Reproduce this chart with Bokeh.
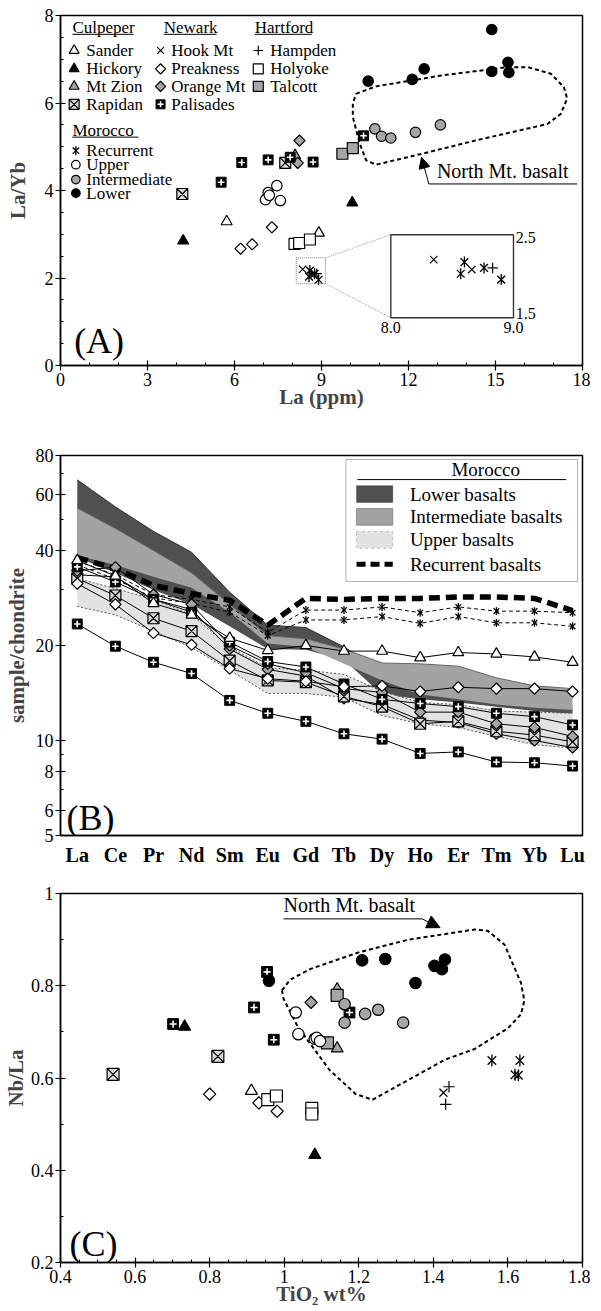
import math
from bokeh.plotting import figure
from bokeh.models import (Range1d, Label, Arrow, NormalHead, FixedTicker,
                          SingleIntervalTicker, BasicTickFormatter, BoxAnnotation)
from bokeh.layouts import column
from bokeh.embed import file_html
from bokeh.resources import INLINE

FONT = "Liberation Serif"
GREY = "#a6a6a6"

# ======================= DATA =======================
# ---- Panel A : La/Yb vs La (ppm)
A_sander_x = [5.73, 8.91];                A_sander_y = [3.29, 3.03]
A_hickory_x = [4.23, 10.06];              A_hickory_y = [2.85, 3.72]
A_mtzion_x = [8.09];                      A_mtzion_y = [4.80]
A_rapidan_x = [4.20, 7.75];               A_rapidan_y = [3.92, 4.63]
A_hookmt_x = [8.35, 8.66];                A_hookmt_y = [2.20, 2.08]
A_preakness_x = [6.21, 6.61, 7.29];       A_preakness_y = [2.67, 2.77, 3.16]
A_orangemt_x = [8.24, 8.18];              A_orangemt_y = [5.14, 4.63]
A_palisades_x = [5.54, 6.25, 7.16, 7.92, 8.71, 10.45]
A_palisades_y = [4.19, 4.64, 4.70, 4.76, 4.65, 5.25]
A_hampden_x = [8.83];                     A_hampden_y = [2.10]
A_holyoke_x = [8.07, 8.23, 8.60];         A_holyoke_y = [2.78, 2.80, 2.88]
A_talcott_x = [9.72, 10.08];              A_talcott_y = [4.84, 4.97]
A_recurrent_x = [8.60, 8.57, 8.76, 8.90]; A_recurrent_y = [2.17, 2.03, 2.10, 1.96]
A_upper_x = [7.46, 7.16, 7.07, 7.58, 7.20]; A_upper_y = [4.11, 3.95, 3.79, 3.77, 3.89]
A_inter_x = [10.84, 11.07, 11.39, 12.24, 13.10]; A_inter_y = [5.41, 5.24, 5.20, 5.33, 5.50]
A_lower_x = [14.87, 12.54, 12.13, 10.61, 14.87, 15.43, 15.46]
A_lower_y = [7.68, 6.78, 6.54, 6.50, 6.72, 6.93, 6.70]
# North Mt. basalt field (panel A)
A_field_x = [10.19, 10.88, 13.15, 15.43, 16.11, 16.91, 17.36, 17.47, 17.25, 16.79,
             14.29, 12.47, 10.88, 10.54, 10.32, 10.08, 10.08]
A_field_y = [6.21, 6.38, 6.63, 6.82, 6.82, 6.67, 6.36, 6.10, 5.75, 5.52,
             5.14, 4.84, 4.59, 4.69, 5.07, 5.68, 5.98]

# ---- Panel B : chondrite-normalised REE
REE = ["La", "Ce", "Pr", "Nd", "Sm", "Eu", "Gd", "Tb", "Dy", "Ho", "Er", "Tm", "Yb", "Lu"]
B_lower_hi = [67, 55, 46, 39.5, 29.5, 23.2, 22.8, 19.8, 16.5, 15.5, 15.0, 13.8, 13.0, 12.6]
B_lower_lo = [38, 34, 30, 27, 23, 19.5, 19.4, 18.0, 14.0, 13.5, 13.2, 12.8, 12.4, 12.1]
B_inter_hi = [54.5, 47, 40, 34, 27, 21.5, 21.0, 19.5, 17.6, 17.5, 17.2, 15.8, 14.9, 14.6]
B_inter_lo = [38.5, 36, 33, 30.5, 25.5, 20.3, 19.8, 17.5, 15.5, 14.0, 13.5, 13.0, 12.7, 12.5]
B_upper_hi = [32.6, 30.3, 28, 25, 19.8, 17, 16.7, 16.2, 14.3, 13.2, 13.0, 12.4, 12.3, 12.2]
B_upper_lo = [26.6, 25, 22.2, 19.7, 16.7, 14.1, 14.1, 13.7, 12.0, 11.3, 11.0, 10.3, 9.7, 9.46]
B_recurrent = [38, 35, 31, 29.2, 27.8, 23.2, 28.2, 28.0, 28.2, 28.2, 28.5, 28.5, 28.2, 25.8]
B_rec_a = [37, 33.5, 29, 28, 26.5, 22.0, 25.9, 25.9, 26.5, 25.4, 26.5, 25.7, 25.7, 25.4]
B_rec_b = [36, 32.5, 28.3, 27.2, 25.5, 21.5, 24.1, 24.1, 24.7, 23.5, 24.7, 23.6, 23.6, 23.0]
B_palisades_1 = [23.4, 19.9, 17.7, 16.3, 13.4, 12.2, 11.5, 10.5, 10.1, 9.1, 9.2, 8.55, 8.5, 8.3]
B_palisades_2 = [35.5, 31.8, 28.0, 25.5, 20.5, 17.8, 17.1, 15.1, 13.5, 13.1, 12.8, 12.2, 11.9, 11.2]
B_sander = [37.2, 33.2, 27.2, 25.0, 21.1, 19.3, 20.0, 19.2, 19.2, 18.3, 19.0, 18.8, 18.4, 17.7]
B_preakness = [31.4, 27.0, 21.9, 20.1, 16.9, 15.7, 15.4, 14.8, 14.9, 14.3, 14.75, 14.6, 14.6, 14.3]
B_rapidan = [32.6, 28.8, 24.4, 22.2, 17.9, 15.5, 15.3, 13.8, 12.8, 11.3, 11.5, 10.7, 10.4, 9.9]
B_orangemt_1 = [34.5, 35.4, 29.0, 27.0, 20.0, 17.5, 16.4, 14.6, 14.2, 12.3, 12.3, 11.3, 11.0, 10.3]
B_orangemt_2 = [33.5, 33.0, 28.0, 26.0, 19.5, 16.8, 16.0, 13.6, 13.0, 11.6, 11.4, 10.5, 10.0, 9.5]

# ---- Panel C : Nb/La vs TiO2
C_sander_x = [0.912];                   C_sander_y = [0.572]
C_hickory_x = [0.733, 1.082];           C_hickory_y = [0.711, 0.433]
C_mtzion_x = [1.142, 1.142];            C_mtzion_y = [0.792, 0.664]
C_rapidan_x = [0.541, 0.822];           C_rapidan_y = [0.608, 0.647]
C_hookmt_x = [1.427];                   C_hookmt_y = [0.568]
C_preakness_x = [0.800, 0.932, 0.981];  C_preakness_y = [0.565, 0.546, 0.528]
C_orangemt_x = [1.072];                 C_orangemt_y = [0.764]
C_palisades_x = [0.702, 0.919, 0.954, 0.972, 1.175]
C_palisades_y = [0.717, 0.753, 0.830, 0.683, 0.742]
C_hampden_x = [1.442, 1.433];           C_hampden_y = [0.581, 0.543]
C_holyoke_x = [0.956, 0.979, 1.074, 1.074]; C_holyoke_y = [0.553, 0.561, 0.534, 0.522]
C_talcott_x = [1.142, 1.116];           C_talcott_y = [0.779, 0.676]
C_recurrent_x = [1.557, 1.632, 1.619, 1.628]; C_recurrent_y = [0.638, 0.638, 0.607, 0.606]
C_upper_x = [1.031, 1.038, 1.082, 1.087, 1.096]; C_upper_y = [0.742, 0.695, 0.685, 0.687, 0.680]
C_inter_x = [1.162, 1.162, 1.217, 1.252, 1.319]; C_inter_y = [0.760, 0.720, 0.739, 0.748, 0.720]
C_lower_x = [0.959, 1.209, 1.271, 1.352, 1.403, 1.423, 1.431]
C_lower_y = [0.811, 0.855, 0.858, 0.806, 0.843, 0.836, 0.857]
C_field_x = [0.994, 1.016, 1.069, 1.202, 1.334, 1.511, 1.546, 1.591, 1.635, 1.644, 1.635,
             1.600, 1.511, 1.432, 1.237, 1.192, 1.122, 1.060, 1.034, 0.998]
C_field_y = [0.790, 0.813, 0.836, 0.873, 0.900, 0.922, 0.919, 0.889, 0.806, 0.768, 0.738,
             0.708, 0.663, 0.640, 0.553, 0.565, 0.617, 0.685, 0.715, 0.772]

# ======================= STYLES =======================
STYLE = {
    "Sander": ("triangle", "white"), "Hickory": ("triangle", "black"),
    "Mt Zion": ("triangle", GREY), "Rapidan": ("square_x", "#d9d9d9"),
    "Hook Mt": ("x", None), "Preakness": ("diamond", "white"),
    "Orange Mt": ("diamond", GREY), "Palisades": ("palisades", "black"),
    "Hampden": ("cross", None), "Holyoke": ("square", "white"),
    "Talcott": ("square", GREY), "Recurrent": ("recurrent", None),
    "Upper": ("circle", "white"), "Intermediate": ("circle", GREY), "Lower": ("circle", "black"),
}


def draw(p, name, xs, ys, size=11):
    m, fill = STYLE[name]
    if m == "palisades":
        p.scatter(xs, ys, marker="square", size=size * 0.9, fill_color="black", line_color="black")
        p.scatter(xs, ys, marker="cross", size=size * 0.6, line_color="white", line_width=1.6)
    elif m == "recurrent":
        p.scatter(xs, ys, marker="x", size=size * 1.0, line_color="black", line_width=1.3)
        p.scatter(xs, ys, marker="dash", angle=math.pi / 2, size=size * 1.0,
                  line_color="black", line_width=1.3)
    elif m == "diamond":
        p.scatter(xs, ys, marker="square", angle=math.pi / 4, size=size * 0.72,
                  fill_color=fill, line_color="black", line_width=1.2)
    elif m in ("x", "cross"):
        p.scatter(xs, ys, marker=m, size=size * 0.95, line_color="black", line_width=1.2)
    elif m == "circle":
        p.scatter(xs, ys, marker="circle", size=size * 0.95, fill_color=fill,
                  line_color="black", line_width=1.2)
    else:
        p.scatter(xs, ys, marker=m, size=size, fill_color=fill, line_color="black", line_width=1.2)


def style_axes(p, ylab_standoff):
    p.outline_line_color = "black"
    p.outline_line_width = 1.5
    p.xgrid.visible = False
    p.ygrid.visible = False
    p.background_fill_color = "white"
    p.border_fill_color = "white"
    for ax in (p.xaxis[0], p.yaxis[0]):
        ax.axis_line_width = 1.5
        ax.major_label_text_font = FONT
        ax.major_label_text_font_size = "18px"
        ax.major_label_text_color = "black"
        ax.axis_label_text_font = FONT
        ax.axis_label_text_font_style = "bold"
        ax.axis_label_text_font_size = "21px"
        ax.major_tick_in = 5
        ax.major_tick_out = 5
        ax.minor_tick_in = 3
        ax.minor_tick_out = 0
        ax.major_tick_line_width = 1.2
        ax.major_label_standoff = 2
    p.xaxis[0].axis_label_standoff = -4
    p.yaxis[0].axis_label_standoff = ylab_standoff


def label(p, x, y, text, size="17px", align="left", baseline="middle", style="normal"):
    p.add_layout(Label(x=x, y=y, text=text, text_font=FONT, text_font_size=size,
                       text_align=align, text_baseline=baseline, text_font_style=style,
                       text_color="black"))


# ======================= PANEL A =======================
pA = figure(width=590, height=415, x_range=Range1d(0, 18), y_range=Range1d(0, 8),
            output_backend="svg", toolbar_location=None,
            min_border_left=53, min_border_right=8, min_border_top=15, min_border_bottom=50)
style_axes(pA, 12)
pA.xaxis[0].ticker = SingleIntervalTicker(interval=3, num_minor_ticks=3)
pA.yaxis[0].ticker = SingleIntervalTicker(interval=2, num_minor_ticks=4)
pA.xaxis.axis_label = "La (ppm)"
pA.yaxis.axis_label = "La/Yb"

SER_A = {
    "Sander": (A_sander_x, A_sander_y), "Hickory": (A_hickory_x, A_hickory_y),
    "Mt Zion": (A_mtzion_x, A_mtzion_y), "Rapidan": (A_rapidan_x, A_rapidan_y),
    "Hook Mt": (A_hookmt_x, A_hookmt_y), "Preakness": (A_preakness_x, A_preakness_y),
    "Orange Mt": (A_orangemt_x, A_orangemt_y), "Palisades": (A_palisades_x, A_palisades_y),
    "Hampden": (A_hampden_x, A_hampden_y), "Holyoke": (A_holyoke_x, A_holyoke_y),
    "Talcott": (A_talcott_x, A_talcott_y), "Recurrent": (A_recurrent_x, A_recurrent_y),
    "Upper": (A_upper_x, A_upper_y), "Intermediate": (A_inter_x, A_inter_y),
    "Lower": (A_lower_x, A_lower_y),
}

# North Mt field
pA.line(A_field_x + A_field_x[:1], A_field_y + A_field_y[:1], line_color="black",
        line_width=2, line_dash="4 3")
for name, (xs, ys) in SER_A.items():
    draw(pA, name, xs, ys, 11)

# zoom box + inset
ZOOM_BOX = (8.13, 9.14, 1.87, 2.46)          # x0, x1, y0, y1 in main axes
INSET_BOX = (11.39, 15.62, 1.09, 2.99)       # where the inset sits in main axes
INSET_RANGE = (8.0, 9.0, 1.5, 2.5)           # inset's own axes
zx0, zx1, zy0, zy1 = ZOOM_BOX
ix0, ix1, iy0, iy1 = INSET_BOX
rx0, rx1, ry0, ry1 = INSET_RANGE
pA.quad(left=zx0, right=zx1, bottom=zy0, top=zy1, fill_color=None,
        line_color="#777777", line_dash="1 1", line_width=1)
pA.line([zx1, ix0], [zy1, iy1], line_color="#999999", line_dash="1 1", line_width=1)
pA.line([zx1, ix0], [zy0, iy0], line_color="#999999", line_dash="1 1", line_width=1)
pA.quad(left=ix0, right=ix1, bottom=iy0, top=iy1, fill_color="white",
        line_color="#333333", line_width=1.4)


def to_inset(xs, ys):
    return ([ix0 + (x - rx0) / (rx1 - rx0) * (ix1 - ix0) for x in xs],
            [iy0 + (y - ry0) / (ry1 - ry0) * (iy1 - iy0) for y in ys])


for name in ("Hook Mt", "Recurrent", "Hampden"):
    xs, ys = to_inset(*SER_A[name])
    draw(pA, name, xs, ys, 11)
label(pA, ix1 + 0.08, iy1 - 0.07, "2.5", size="16px")
label(pA, ix1 + 0.08, iy0 + 0.09, "1.5", size="16px")
label(pA, ix0, iy0 - 0.22, "8.0", size="16px", align="center")
label(pA, ix1, iy0 - 0.22, "9.0", size="16px", align="center")

# North Mt label & leader arrow
pA.line([12.70, 17.82], [4.15, 4.15], line_color="black", line_width=1)
pA.add_layout(Arrow(end=NormalHead(size=11, fill_color="black", line_color="black"),
                    x_start=12.70, y_start=4.15, x_end=12.45, y_end=4.76,
                    line_color="black", line_width=1))
label(pA, 12.98, 4.19, "North Mt. basalt", size="20px", baseline="bottom")
label(pA, 0.47, 0.57, "(A)", size="36px", baseline="alphabetic")

# legend (panel A)
LEG_COLS = [
    ("Culpeper", 0.41, 2.52, 0.47, 0.89, ["Sander", "Hickory", "Mt Zion", "Rapidan"]),
    ("Newark", 3.56, 5.38, 3.45, 3.82, ["Hook Mt", "Preakness", "Orange Mt", "Palisades"]),
    ("Hartford", 6.70, 8.66, 6.82, 7.23, ["Hampden", "Holyoke", "Talcott"]),
]
ROW_Y = [7.20, 6.78, 6.38, 5.97]
for head, hx, ux1, mx, tx, names in LEG_COLS:
    label(pA, hx, 7.72, head)
    pA.line([hx, ux1], [7.57, 7.57], line_color="black", line_width=1)
    for nm, yy in zip(names, ROW_Y):
        draw(pA, nm, [mx], [yy], 10)
        label(pA, tx, yy, nm)
label(pA, 0.41, 5.37, "Morocco")
pA.line([0.41, 2.69], [5.22, 5.22], line_color="black", line_width=1)
for nm, yy in zip(["Recurrent", "Upper", "Intermediate", "Lower"], [4.91, 4.59, 4.25, 3.94]):
    draw(pA, nm, [0.53], [yy], 9)
    label(pA, 0.89, yy, nm)

# ======================= PANEL B =======================
B_x = list(range(len(REE)))
pB = figure(width=590, height=453, x_range=Range1d(-0.44, 13.26), y_range=Range1d(5, 80),
            y_axis_type="log", output_backend="svg", toolbar_location=None,
            min_border_left=53, min_border_right=8, min_border_top=40, min_border_bottom=30)
style_axes(pB, 4)
pB.xaxis[0].ticker = FixedTicker(ticks=B_x)
pB.xaxis[0].major_label_overrides = {i: r for i, r in enumerate(REE)}
pB.xaxis[0].major_label_text_font_style = "bold"
pB.xaxis[0].major_label_text_font_size = "20px"
pB.xaxis[0].major_tick_in = 0
pB.xaxis[0].major_tick_out = 0
pB.xaxis[0].major_label_standoff = 8
B_yticks = [5, 6, 8, 10, 20, 40, 60, 80]
pB.yaxis[0].ticker = FixedTicker(ticks=B_yticks, minor_ticks=[7, 9, 30, 50, 70])
pB.yaxis[0].formatter = BasicTickFormatter()
pB.yaxis[0].major_label_overrides = {t: str(t) for t in B_yticks}
pB.yaxis.axis_label = "sample/chondrite"

pB.varea(x=B_x, y1=B_lower_lo, y2=B_lower_hi, fill_color="#505050")
pB.line(B_x, B_lower_hi, line_color="#333333", line_width=1)
pB.varea(x=B_x, y1=B_inter_lo, y2=B_inter_hi, fill_color="#a3a3a3")
pB.line(B_x, B_inter_hi, line_color="#666666", line_width=1)
pB.varea(x=B_x, y1=B_upper_lo, y2=B_upper_hi, fill_color="#e2e2e2")
pB.line(B_x, B_upper_hi, line_color="#555555", line_width=1, line_dash="2 2")
pB.line(B_x, B_upper_lo, line_color="#555555", line_width=1, line_dash="2 2")

for ser in (B_rec_a, B_rec_b):
    pB.line(B_x, ser, line_color="black", line_width=1, line_dash="4 3")
    draw(pB, "Recurrent", B_x, ser, 8)
pB.line(B_x, B_recurrent, line_color="black", line_width=5.5, line_dash="11 6")

SER_B = [("Palisades", B_palisades_1), ("Orange Mt", B_orangemt_2), ("Rapidan", B_rapidan),
         ("Orange Mt", B_orangemt_1), ("Palisades", B_palisades_2), ("Preakness", B_preakness),
         ("Sander", B_sander)]
for nm, ser in SER_B:
    pB.line(B_x, ser, line_color="black", line_width=1)
for nm, ser in SER_B:
    draw(pB, nm, B_x, ser, 11)

# legend box (panel B)
pB.add_layout(BoxAnnotation(left=7.05, right=13.13, bottom=31.9, top=77.7, fill_color="white",
                            fill_alpha=1, line_color="black", line_width=1))
label(pB, 10.72, 72.2, "Morocco", size="19px", align="center")
pB.add_layout(Arrow(end=None, x_start=7.35, y_start=67.1, x_end=12.83, y_end=67.1,
                    line_color="black", line_width=1))
LEG_B = [("Lower basalts", 60.4, "#505050", "solid"),
         ("Intermediate basalts", 51.1, "#a3a3a3", "solid"),
         ("Upper basalts", 43.2, "#e2e2e2", "dotted")]
for txt, yy, col, dash in LEG_B:
    pB.add_layout(BoxAnnotation(left=7.33, right=8.28, bottom=yy / 1.063, top=yy * 1.063,
                                fill_color=col, fill_alpha=1, line_color="black",
                                line_width=1, line_dash=dash))
    label(pB, 8.73, yy, txt, size="19px")
pB.add_layout(Arrow(end=None, x_start=7.33, y_start=36.2, x_end=8.28, y_end=36.2,
                    line_color="black", line_width=5, line_dash="9 5"))
label(pB, 8.73, 36.2, "Recurrent basalts", size="19px")
label(pB, -0.28, 5.7, "(B)", size="36px", baseline="alphabetic")

# ======================= PANEL C =======================
pC = figure(width=590, height=443, x_range=Range1d(0.4, 1.8), y_range=Range1d(0.2, 1.0),
            output_backend="svg", toolbar_location=None,
            min_border_left=53, min_border_right=8, min_border_top=25, min_border_bottom=49)
style_axes(pC, 0)
pC.xaxis[0].ticker = SingleIntervalTicker(interval=0.2, num_minor_ticks=4)
C_yticks = [0.2, 0.4, 0.6, 0.8, 1.0]
pC.yaxis[0].ticker = FixedTicker(ticks=C_yticks, minor_ticks=[0.3, 0.5, 0.7, 0.9])
pC.yaxis[0].major_label_overrides = {1: "1", 1.0: "1"}
pC.xaxis.axis_label = "TiO\u2082 wt%"
pC.yaxis.axis_label = "Nb/La"

pC.line(C_field_x + C_field_x[:1], C_field_y + C_field_y[:1], line_color="black",
        line_width=2, line_dash="4 3")
SER_C = {
    "Sander": (C_sander_x, C_sander_y), "Hickory": (C_hickory_x, C_hickory_y),
    "Mt Zion": (C_mtzion_x, C_mtzion_y), "Rapidan": (C_rapidan_x, C_rapidan_y),
    "Hook Mt": (C_hookmt_x, C_hookmt_y), "Preakness": (C_preakness_x, C_preakness_y),
    "Orange Mt": (C_orangemt_x, C_orangemt_y), "Palisades": (C_palisades_x, C_palisades_y),
    "Hampden": (C_hampden_x, C_hampden_y), "Holyoke": (C_holyoke_x, C_holyoke_y),
    "Talcott": (C_talcott_x, C_talcott_y), "Recurrent": (C_recurrent_x, C_recurrent_y),
    "Upper": (C_upper_x, C_upper_y), "Intermediate": (C_inter_x, C_inter_y),
    "Lower": (C_lower_x, C_lower_y),
}
for name, (xs, ys) in SER_C.items():
    draw(pC, name, xs, ys, 12)

pC.line([0.998, 1.37], [0.945, 0.945], line_color="black", line_width=1)
pC.add_layout(Arrow(end=NormalHead(size=13, fill_color="black", line_color="black"),
                    x_start=1.37, y_start=0.945, x_end=1.418, y_end=0.926,
                    line_color="black", line_width=1))
label(pC, 0.998, 0.951, "North Mt. basalt", size="20px", baseline="bottom")
label(pC, 0.424, 0.24, "(C)", size="36px", baseline="alphabetic")

layout = column(pA, pB, pC, spacing=0)
open("out.html", "w").write(file_html(layout, INLINE))
